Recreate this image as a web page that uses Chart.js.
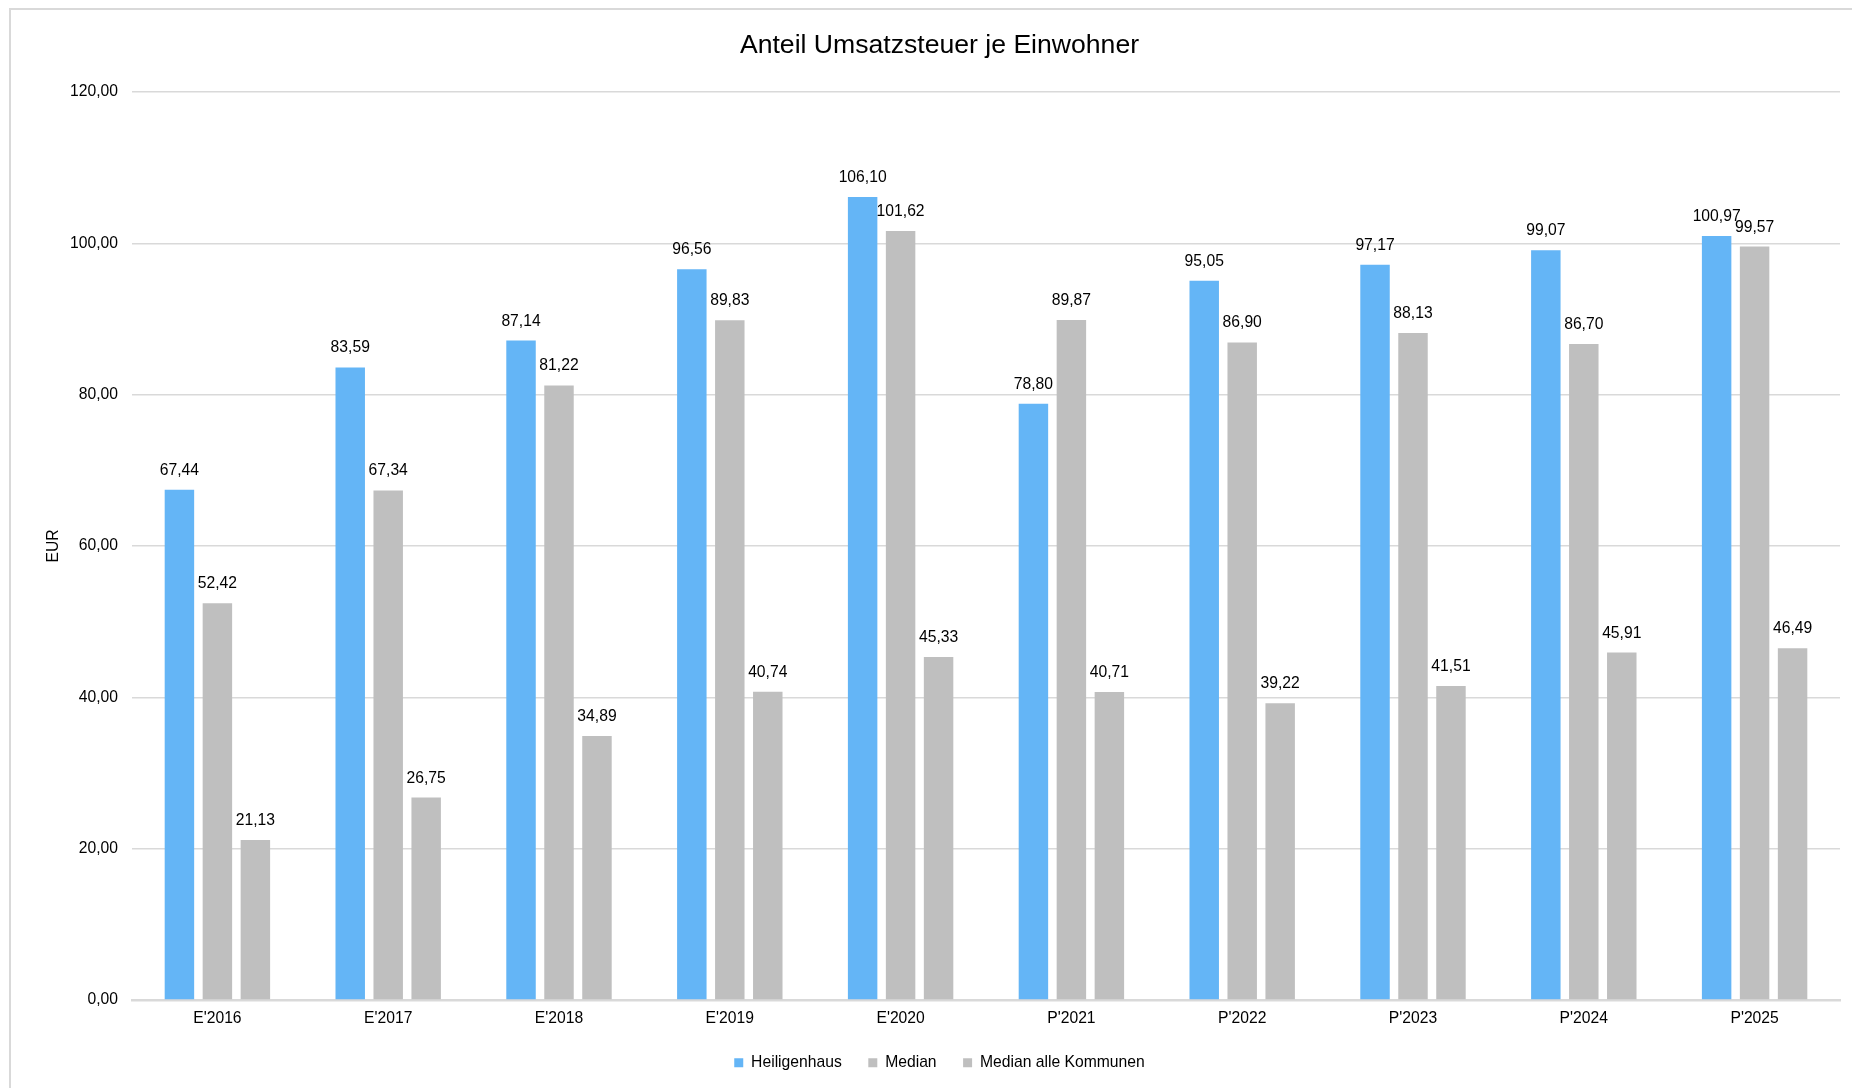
<!DOCTYPE html>
<html lang="de">
<head>
<meta charset="utf-8">
<title>Anteil Umsatzsteuer je Einwohner</title>
<script src="https://cdn.jsdelivr.net/npm/chart.js@4.4.1/dist/chart.umd.min.js"></script>
<style>
  html, body { margin: 0; padding: 0; background: #fff; overflow: hidden; }
  #wrap { position: relative; width: 1852px; height: 1088px; overflow: hidden; }
  #frame {
    position: absolute; left: 9px; top: 8px; width: 2000px; height: 2000px;
    border: 2px solid #d9d9d9; box-sizing: border-box; pointer-events: none;
  }
  #chart { position: absolute; left: 0; top: 0; }
</style>
</head>
<body>
<div id="wrap">
  <canvas id="chart" width="1879" height="1088"></canvas>
  <div id="frame"></div>
</div>
<script>
const categories = ["E'2016", "E'2017", "E'2018", "E'2019", "E'2020", "P'2021", "P'2022", "P'2023", "P'2024", "P'2025"];
const heiligenhaus = [67.44, 83.59, 87.14, 96.56, 106.10, 78.80, 95.05, 97.17, 99.07, 100.97];
const median = [52.42, 67.34, 81.22, 89.83, 101.62, 89.87, 86.90, 88.13, 86.70, 99.57];
const medianAlle = [21.13, 26.75, 34.89, 40.74, 45.33, 40.71, 39.22, 41.51, 45.91, 46.49];
const yMin = 0, yMax = 120, yStep = 20;

const FONT = '"Liberation Sans", Arial, sans-serif';
const fmt = v => v.toFixed(2).replace('.', ',');

Chart.defaults.font.family = FONT;
Chart.defaults.color = '#000';

// Werte über den Balken
const valueLabels = {
  id: 'valueLabels',
  afterDatasetsDraw(chart) {
    const ctx = chart.ctx;
    ctx.save();
    ctx.font = '15.7px ' + FONT;
    ctx.fillStyle = '#000';
    ctx.textAlign = 'center';
    ctx.textBaseline = 'alphabetic';
    chart.data.datasets.forEach((ds, i) => {
      chart.getDatasetMeta(i).data.forEach((bar, j) => {
        ctx.fillText(fmt(ds.data[j]), bar.x, bar.y - 15);
      });
    });
    ctx.restore();
  }
};

new Chart(document.getElementById('chart'), {
  type: 'bar',
  data: {
    labels: categories,
    datasets: [
      { label: 'Heiligenhaus', data: heiligenhaus, backgroundColor: '#64b5f6' },
      { label: 'Median', data: median, backgroundColor: '#bfbfbf' },
      { label: 'Median alle Kommunen', data: medianAlle, backgroundColor: '#bfbfbf' }
    ]
  },
  options: {
    responsive: false,
    animation: false,
    devicePixelRatio: 1,
    categoryPercentage: 0.667,
    barPercentage: 0.776,
    layout: { padding: { top: 0, left: 0, right: 0, bottom: 7.3 } },
    plugins: {
      title: {
        display: true,
        text: 'Anteil Umsatzsteuer je Einwohner',
        font: { size: 26.6, weight: 'normal' },
        color: '#000',
        padding: { top: 30, bottom: 30 }
      },
      legend: {
        position: 'bottom',
        labels: {
          boxWidth: 9,
          boxHeight: 9,
          padding: 26.5,
          font: { size: 15.7 },
          color: '#000'
        }
      },
      tooltip: { enabled: false }
    },
    scales: {
      x: {
        grid: { display: false, drawTicks: false },
        border: { display: true, color: '#d9d9d9', width: 2.5 },
        ticks: { padding: 9.6, font: { size: 15.7 }, color: '#000' },
        afterFit(scale) { scale.height = 28.5; }
      },
      y: {
        min: yMin,
        max: yMax,
        grid: { color: '#d9d9d9', lineWidth: 1.5, drawTicks: false },
        border: { display: false },
        ticks: {
          stepSize: yStep,
          padding: 14,
          font: { size: 15.7 },
          color: '#000',
          callback: v => fmt(v)
        },
        title: {
          display: true,
          text: 'EUR',
          font: { size: 15.7 },
          color: '#000',
          padding: { top: 44, bottom: 0 }
        },
        afterFit(scale) { scale.width = 132; }
      },
      // leere Achse rechts, hält die Zeichenfläche vom Rand fern
      yRight: {
        type: 'linear',
        position: 'right',
        display: true,
        grid: { display: false },
        border: { display: false },
        ticks: { display: false },
        afterFit(scale) { scale.width = 39; }
      }
    }
  },
  plugins: [valueLabels]
});
</script>
</body>
</html>
